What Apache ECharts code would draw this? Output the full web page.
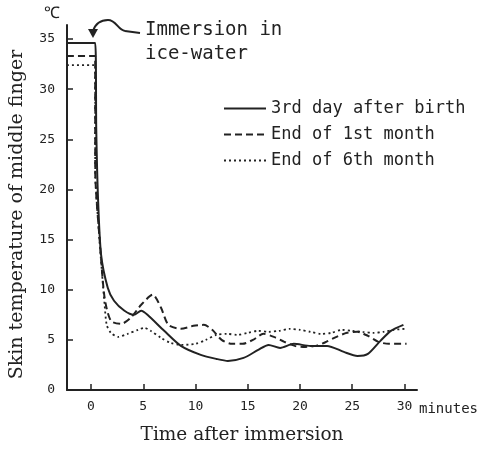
<!DOCTYPE html>
<html><head><meta charset="utf-8">
<script src="https://cdn.jsdelivr.net/npm/echarts@6/dist/echarts.min.js"></script>
<style>html,body{margin:0;padding:0;background:#fff}#c{width:488px;height:450px}</style>
</head><body><div id="c"></div>
<script>
var seriesNames = ['3rd day after birth', 'End of 1st month', 'End of 6th month'];
var xTicks = [0, 5, 10, 15, 20, 25, 30];
var yTicks = [0, 5, 10, 15, 20, 25, 30, 35];
var day3 = [[-2.3,34.6],[0.4,34.6],[0.5,26],[0.67,19.1],[0.96,13.5],[1.6,10.2],[2.2,8.9],[3.2,7.9],[4.1,7.5],[4.8,7.9],[5.4,7.5],[7.0,5.9],[8.6,4.4],[10.5,3.5],[12,3.1],[13.1,2.9],[14.6,3.2],[16,4.0],[17,4.5],[18.1,4.2],[19.4,4.6],[21,4.4],[22.6,4.4],[24.2,3.8],[25.5,3.4],[26.5,3.6],[27.7,4.9],[28.7,5.9],[29.9,6.5]];
var month1 = [[-2.3,33.3],[0.4,33.3],[0.4,22],[0.9,14],[1.3,9.2],[1.9,6.9],[2.9,6.6],[3.8,7.2],[4.8,8.5],[5.9,9.5],[6.7,8.2],[7.4,6.5],[8.6,6.1],[9.8,6.4],[10.8,6.5],[11.6,6.0],[12.5,5.0],[13.5,4.6],[14.5,4.6],[15.5,5.0],[16.5,5.6],[17.5,5.3],[18.5,4.8],[19.5,4.4],[20.5,4.3],[21.5,4.4],[22.5,4.8],[23.5,5.3],[24.5,5.7],[25.5,5.8],[26.5,5.4],[27.5,4.8],[28.5,4.6],[29.5,4.6],[30.2,4.6]];
var month6 = [[-2.3,32.4],[0.4,32.4],[0.4,22],[0.8,15.1],[1.1,11],[1.3,8.5],[1.5,6.5],[1.9,5.7],[2.6,5.3],[3.5,5.6],[4.5,6.0],[5.1,6.2],[5.7,5.9],[6.7,5.2],[7.6,4.7],[8.6,4.5],[10,4.6],[11,5.0],[12,5.5],[13,5.6],[14,5.5],[15,5.7],[16,5.9],[17,5.8],[18,5.9],[19,6.1],[20,6.0],[21,5.8],[22,5.6],[23,5.7],[24,6.0],[25,5.9],[26,5.8],[27,5.7],[28,5.8],[29,6.0],[30,6.1]];

var hand = '"DejaVu Sans Mono", monospace';
var serif = '"DejaVu Serif", serif';
var ink = '#222';
function mk(name, data, type, w) {
  return {name: name, type: 'line', data: data, symbol: 'none', smooth: 0.25,
    lineStyle: {color: ink, width: w, type: type}, itemStyle: {color: ink}, silent: true, animation: false};
}
var chart = echarts.init(document.getElementById('c'));
chart.setOption({
  animation: false,
  backgroundColor: '#fff',
  grid: {left: 66, right: 71, top: 25, bottom: 57},
  legend: {
    orient: 'vertical', left: 218, top: 95, itemGap: 9, itemWidth: 42, itemHeight: 16,
    data: seriesNames,
    itemStyle: {color: 'rgba(0,0,0,0)', borderWidth: 0, opacity: 0},
    textStyle: {fontFamily: hand, fontSize: 17, color: ink}
  },
  xAxis: {
    type: 'value', min: -2.3, max: 31.2,
    splitLine: {show: false},
    axisLine: {onZero: false, lineStyle: {color: ink, width: 2}},
    axisTick: {inside: true, length: 6, customValues: xTicks, lineStyle: {color: ink, width: 1.5}},
    axisLabel: {customValues: xTicks, margin: 10, fontFamily: hand, fontSize: 13, color: ink},
    name: 'Time after immersion', nameLocation: 'middle', nameGap: 36,
    nameTextStyle: {fontFamily: serif, fontSize: 18.5, color: ink}
  },
  yAxis: {
    type: 'value', min: 0, max: 36.4,
    splitLine: {show: false},
    axisLine: {onZero: false, lineStyle: {color: ink, width: 2}},
    axisTick: {inside: true, length: 6, customValues: yTicks, lineStyle: {color: ink, width: 1.5}},
    axisLabel: {customValues: yTicks, margin: 12, fontFamily: hand, fontSize: 13, color: ink},
    name: 'Skin temperature of middle finger', nameLocation: 'middle', nameGap: 40,
    nameTextStyle: {fontFamily: serif, fontSize: 19, color: ink, padding: [0, 14, 0, 0]}
  },
  series: [
    mk(seriesNames[0], day3, 'solid', 2),
    mk(seriesNames[1], month1, [7, 4], 2),
    mk(seriesNames[2], month6, [2, 3], 1.8)
  ],
  graphic: [
    {type: 'text', left: 44, top: 6, style: {text: '℃', font: '16px ' + hand, fill: ink}},
    {type: 'text', left: 145, top: 21, style: {text: 'Immersion in', font: '19px ' + hand, fill: ink}},
    {type: 'text', left: 145, top: 45, style: {text: 'ice-water', font: '19px ' + hand, fill: ink}},
    {type: 'text', left: 419, top: 402, style: {text: 'minutes', font: '14px ' + hand, fill: ink}},
    {type: 'line', shape: {x1: 140, y1: 33, x2: 125, y2: 31}, style: {stroke: ink, lineWidth: 2}},
    {type: 'bezierCurve', shape: {x1: 125, y1: 31, cpx1: 118, cpy1: 30, cpx2: 116, cpy2: 20, x2: 108, y2: 20},
      style: {fill: null, stroke: ink, lineWidth: 2}},
    {type: 'bezierCurve', shape: {x1: 108, y1: 20, cpx1: 100, cpy1: 20, cpx2: 95, cpy2: 25, x2: 93, y2: 31},
      style: {fill: null, stroke: ink, lineWidth: 2}},
    {type: 'polygon', shape: {points: [[88,29],[98,29],[93,38]]}, style: {fill: ink}}
  ]
});
</script></body></html>
